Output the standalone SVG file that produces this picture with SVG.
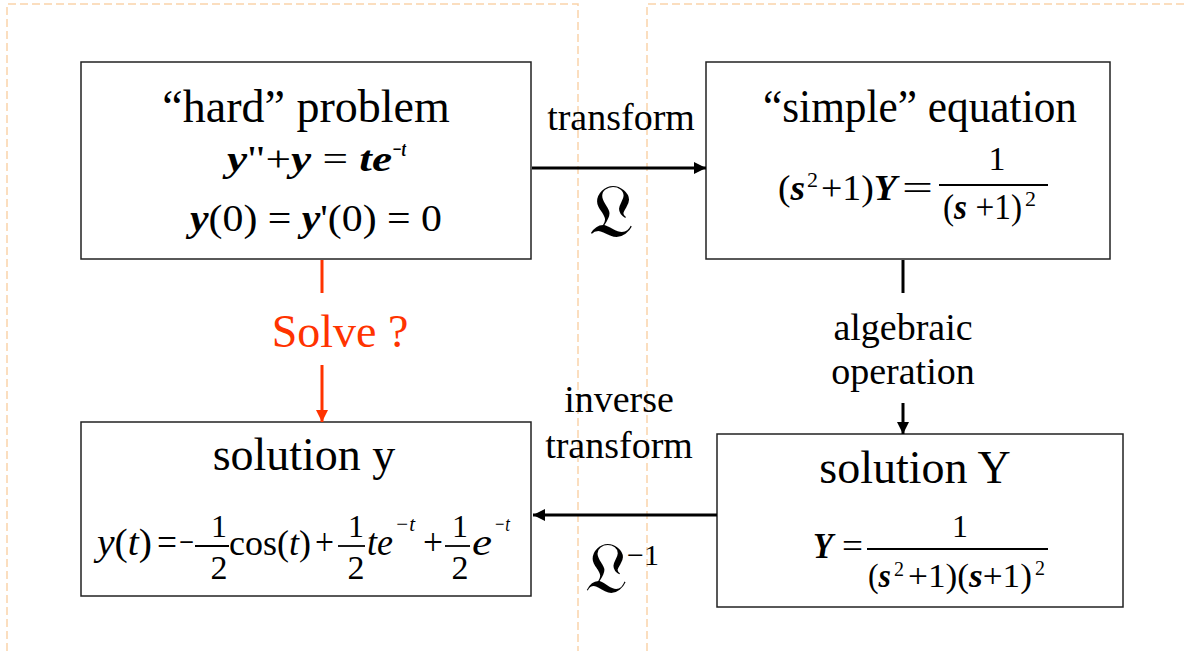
<svg xmlns="http://www.w3.org/2000/svg" width="1187" height="651" viewBox="0 0 1187 651">
<style>
.box{fill:#fff;stroke:#222;stroke-width:1.5}
.t{font-family:"Liberation Serif","Times New Roman",serif;fill:#000}
.bi{font-weight:bold;font-style:italic}
.it{font-style:italic}
.conn{stroke:#000;stroke-width:3;fill:none}
.red{stroke:#FF3300;stroke-width:3;fill:none}
.dash{stroke:#FAD3AA;stroke-width:1.5;fill:none;stroke-dasharray:8 4}
.bar{stroke:#000;stroke-width:1.8}
.lbl{font-size:38px}
</style>
<defs>
<marker id="ah" viewBox="0 0 10 10" refX="10" refY="5" markerWidth="4" markerHeight="4" orient="auto" markerUnits="strokeWidth"><path d="M0,0 L10,5 L0,10 z" fill="#000"/></marker>
<marker id="ahr" viewBox="0 0 10 10" refX="10" refY="5" markerWidth="4" markerHeight="4" orient="auto" markerUnits="strokeWidth"><path d="M0,0 L10,5 L0,10 z" fill="#FF3300"/></marker>
</defs>
<g id="background">
<path class="dash" d="M7,651 V4 H578 V651"/>
<path class="dash" d="M647,651 V4 H1187"/>
</g>
<g id="hard">
<rect class="box" x="81" y="62" width="450" height="197"/>
<text class="t" x="306" y="122" font-size="46" text-anchor="middle">“hard” problem</text>
<text class="t" x="227" y="171" font-size="35" textLength="165" lengthAdjust="spacingAndGlyphs"><tspan class="bi">y</tspan>"+<tspan class="bi">y</tspan> = <tspan class="bi">te</tspan></text>
<text class="t bi" x="392" y="156" font-size="21" textLength="14" lengthAdjust="spacingAndGlyphs">−t</text>
<text class="t" x="190" y="231" font-size="37" textLength="252" lengthAdjust="spacingAndGlyphs"><tspan class="bi">y</tspan>(0) = <tspan class="bi">y</tspan>'(0) = 0</text>
</g>
<g id="simple">
<rect class="box" x="706" y="62" width="404" height="197"/>
<text class="t" x="920" y="122" font-size="46" text-anchor="middle" textLength="314" lengthAdjust="spacingAndGlyphs">“simple” equation</text>
<text class="t" x="778" y="200" font-size="36" textLength="27" lengthAdjust="spacingAndGlyphs">(<tspan class="bi">s</tspan></text>
<text class="t" x="807" y="187" font-size="22">2</text>
<text class="t" x="821" y="200" font-size="36" textLength="76" lengthAdjust="spacingAndGlyphs">+1)<tspan class="bi">Y</tspan></text>
<text class="t" x="902" y="200" font-size="36" textLength="31" lengthAdjust="spacingAndGlyphs">=</text>
<line class="bar" x1="939" y1="185" x2="1048" y2="185"/>
<text class="t" x="997" y="170" font-size="34" text-anchor="middle">1</text>
<text class="t" x="943" y="219" font-size="36" textLength="79" lengthAdjust="spacingAndGlyphs">(<tspan class="bi">s</tspan> +1)</text>
<text class="t" x="1025" y="206" font-size="22">2</text>
</g>
<g id="soly">
<rect class="box" x="81" y="422" width="450" height="174"/>
<text class="t" x="304" y="470" font-size="46" text-anchor="middle">solution y</text>
<text class="t" x="97" y="555" font-size="38" textLength="55" lengthAdjust="spacingAndGlyphs"><tspan class="it">y</tspan>(<tspan class="it">t</tspan>)</text>
<text class="t" x="157" y="555" font-size="38" textLength="20" lengthAdjust="spacingAndGlyphs">=</text>
<text class="t" x="179" y="555" font-size="38" textLength="15" lengthAdjust="spacingAndGlyphs">−</text>
<line class="bar" x1="195" y1="546" x2="229" y2="546"/>
<text class="t" x="219" y="537" font-size="32" text-anchor="middle">1</text>
<text class="t" x="219" y="579" font-size="34" text-anchor="middle">2</text>
<text class="t" x="229" y="555" font-size="36">cos(<tspan class="it">t</tspan>)</text>
<text class="t" x="315" y="555" font-size="38" textLength="19" lengthAdjust="spacingAndGlyphs">+</text>
<line class="bar" x1="338" y1="546" x2="365" y2="546"/>
<text class="t" x="356" y="537" font-size="32" text-anchor="middle">1</text>
<text class="t" x="356" y="579" font-size="34" text-anchor="middle">2</text>
<text class="t it" x="367" y="555" font-size="38" textLength="26" lengthAdjust="spacingAndGlyphs">te</text>
<text class="t it" x="395" y="531" font-size="21" textLength="20" lengthAdjust="spacingAndGlyphs">−t</text>
<text class="t" x="423" y="555" font-size="38" textLength="20" lengthAdjust="spacingAndGlyphs">+</text>
<line class="bar" x1="445" y1="546" x2="470" y2="546"/>
<text class="t" x="460" y="537" font-size="32" text-anchor="middle">1</text>
<text class="t" x="460" y="579" font-size="34" text-anchor="middle">2</text>
<text class="t it" x="472" y="555" font-size="38" textLength="20" lengthAdjust="spacingAndGlyphs">e</text>
<text class="t it" x="494" y="531" font-size="21" textLength="16" lengthAdjust="spacingAndGlyphs">−t</text>
</g>
<g id="solY">
<rect class="box" x="717" y="434" width="406" height="173"/>
<text class="t" x="915" y="483" font-size="46" text-anchor="middle">solution Y</text>
<text class="t bi" x="813" y="558" font-size="36" textLength="20" lengthAdjust="spacingAndGlyphs">Y</text>
<text class="t" x="842" y="558" font-size="36" textLength="21" lengthAdjust="spacingAndGlyphs">=</text>
<line class="bar" x1="867" y1="549" x2="1048" y2="549"/>
<text class="t" x="960" y="537" font-size="32" text-anchor="middle">1</text>
<text class="t" x="868" y="587" font-size="34" textLength="23" lengthAdjust="spacingAndGlyphs">(<tspan class="bi">s</tspan></text>
<text class="t" x="894" y="576" font-size="20">2</text>
<text class="t" x="908" y="587" font-size="34" textLength="124" lengthAdjust="spacingAndGlyphs">+1)(<tspan class="bi">s</tspan>+1)</text>
<text class="t" x="1035" y="575" font-size="20">2</text>
</g>
<g id="connectors">
<line class="conn" x1="532" y1="168" x2="706" y2="168" marker-end="url(#ah)"/>
<line class="conn" x1="717" y1="515" x2="533" y2="515" marker-end="url(#ah)"/>
<line class="conn" x1="903" y1="260" x2="903" y2="293"/>
<line class="conn" x1="903" y1="403" x2="903" y2="434" marker-end="url(#ah)"/>
<line class="red" x1="322" y1="260" x2="322" y2="293"/>
<line class="red" x1="322" y1="365" x2="322" y2="422" marker-end="url(#ahr)"/>
<text class="t lbl" x="621" y="130" text-anchor="middle">transform</text>
<text class="t" x="611" y="237" font-size="76" text-anchor="middle">𝔏</text>
<text class="t lbl" x="903" y="340" text-anchor="middle">algebraic</text>
<text class="t lbl" x="903" y="384" text-anchor="middle">operation</text>
<text class="t lbl" x="619" y="412" text-anchor="middle">inverse</text>
<text class="t lbl" x="619" y="458" text-anchor="middle">transform</text>
<text class="t" x="606" y="593" font-size="72" text-anchor="middle">𝔏</text>
<text class="t" x="627" y="565" font-size="30">−1</text>
<text class="t" x="340" y="347" font-size="46" text-anchor="middle" style="fill:#FF3300">Solve ?</text>
</g>
</svg>
